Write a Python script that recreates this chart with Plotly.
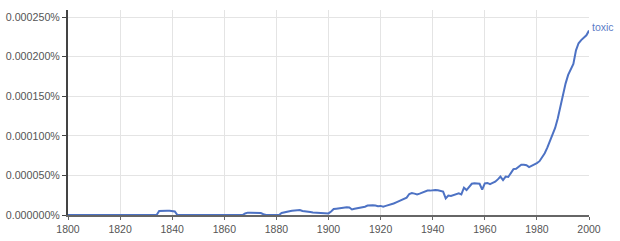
import plotly.graph_objects as go

years = list(range(1800, 2001))

# values in percent, one per year 1800..2000
values = (
    [0.0] * 35  # 1800-1834
    + [5.0e-6, 5.4e-6, 5.4e-6, 5.4e-6, 5.4e-6, 5.4e-6, 4.5e-6]  # 1835-1841
    + [0.0] * 8  # 1842-1849
    + [0.3e-6] * 13  # 1850-1862
    + [0.0] * 5  # 1863-1867
    + [2.0e-6, 3.0e-6, 3.0e-6, 3.0e-6, 3.0e-6, 3.0e-6, 2.5e-6, 1.0e-6]  # 1868-1875
    + [0.0] * 6  # 1876-1881
    + [2.5e-6, 3.5e-6, 4.2e-6, 4.8e-6, 5.3e-6, 5.8e-6, 6.2e-6, 6.3e-6,  # 1882-1889
       5.0e-6, 4.8e-6, 4.2e-6, 3.8e-6, 3.2e-6, 3.0e-6, 2.8e-6, 2.5e-6, 1.5e-6, 1.5e-6,  # 1890-1899
       2.0e-6, 4.5e-6, 7.5e-6, 8.0e-6, 8.5e-6, 9.0e-6, 9.5e-6, 9.8e-6, 9.5e-6, 7.0e-6,  # 1900-1909
       7.8e-6, 8.5e-6, 9.0e-6, 9.5e-6, 10.5e-6, 12.0e-6, 12.5e-6, 12.2e-6, 12.0e-6, 11.0e-6,  # 1910-1919
       11.5e-6, 10.5e-6, 11.5e-6, 12.5e-6, 13.0e-6, 14.5e-6, 16.0e-6, 17.5e-6, 18.0e-6, 19.5e-6,  # 1920-1929
       22.0e-6, 26.5e-6, 27.8e-6, 27.0e-6, 26.0e-6, 27.0e-6, 28.5e-6, 30.0e-6, 31.0e-6, 30.8e-6,  # 1930-1939
       31.5e-6, 31.5e-6, 31.2e-6, 30.8e-6, 29.5e-6, 21.0e-6, 24.5e-6, 24.0e-6, 25.5e-6, 27.0e-6,  # 1940-1949
       27.5e-6, 26.0e-6, 34.5e-6, 31.5e-6, 35.0e-6, 39.5e-6, 40.0e-6, 39.5e-6, 39.5e-6, 32.0e-6,  # 1950-1959
       40.0e-6, 40.5e-6, 39.0e-6, 40.5e-6, 42.0e-6, 45.0e-6, 48.5e-6, 44.0e-6, 48.5e-6, 48.0e-6,  # 1960-1969
       53.5e-6, 58.0e-6, 58.5e-6, 61.0e-6, 63.5e-6, 63.5e-6, 63.0e-6, 60.5e-6, 62.0e-6, 63.5e-6,  # 1970-1979
       65.5e-6, 68.0e-6, 72.5e-6, 78.0e-6, 85.0e-6, 93.0e-6, 101e-6, 110e-6, 122e-6, 137e-6,  # 1980-1989
       154e-6, 166e-6, 177e-6, 184e-6, 191e-6, 208e-6, 217e-6, 221e-6, 224e-6, 227e-6,  # 1990-1999
       233e-6]  # 2000
)

series_name = "toxic"
x_ticks = [1800, 1820, 1840, 1860, 1880, 1900, 1920, 1940, 1960, 1980, 2000]
y_ticks = [0, 0.00005, 0.0001, 0.00015, 0.0002, 0.00025]
y_tick_labels = ["0.000000%", "0.000050%", "0.000100%", "0.000150%", "0.000200%", "0.000250%"]

line_color = "#4d72c4"
fam = "Liberation Sans, Arial, sans-serif"
yfont = dict(family=fam, size=10.7, color="#555555")
xfont = dict(family=fam, size=10.5, color="#555555")

fig = go.Figure()
fig.add_trace(go.Scatter(x=years, y=values, mode="lines",
                         line=dict(color=line_color, width=2), name=series_name,
                         showlegend=False))

fig.add_annotation(x=years[-1], y=values[-1], text=series_name, showarrow=False,
                   xanchor="left", yanchor="middle", xshift=1, yshift=4,
                   font=dict(family=fam, size=10.5, color="#5b7cc6"))

fig.update_layout(
    width=620, height=241,
    margin=dict(l=68, r=31, t=10, b=26),
    plot_bgcolor="white", paper_bgcolor="white",
    font=dict(family=fam, size=11, color="#555555"),
    xaxis=dict(range=[1800, 2000], tickvals=x_ticks, showgrid=True, gridcolor="#e4e4e4",
               gridwidth=1, showline=True, linecolor="#666666", linewidth=2,
               ticks="outside", ticklen=3, tickcolor="#666666", zeroline=False,
               tickfont=xfont, automargin=False),
    yaxis=dict(range=[0, 0.000259], tickvals=y_ticks, ticktext=y_tick_labels,
               showgrid=True, gridcolor="#e4e4e4", gridwidth=1, showline=True,
               linecolor="#444444", linewidth=2, ticks="outside", ticklen=4,
               tickcolor="#444444", zeroline=False, tickfont=yfont, automargin=False),
)

fig.write_html("out.html")
